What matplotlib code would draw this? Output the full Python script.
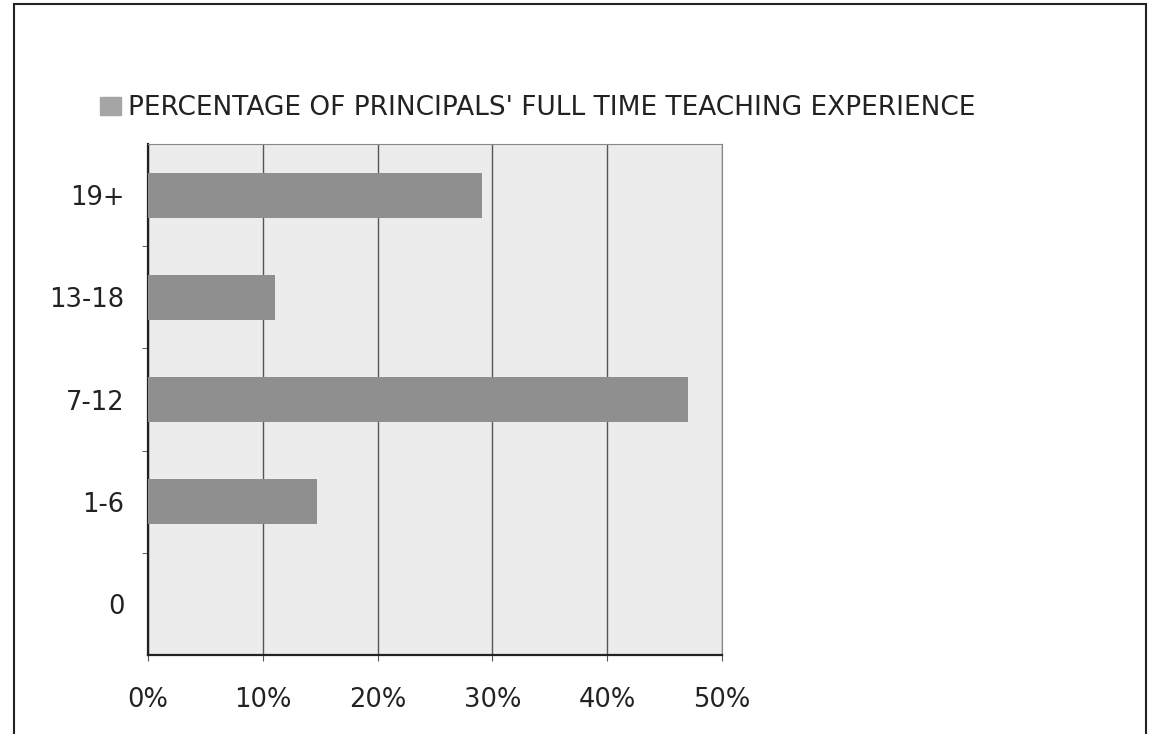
import matplotlib.pyplot as plt
from matplotlib.patches import Rectangle
from matplotlib.ticker import FuncFormatter

# years of full time teaching experience (bottom to top) and share of principals
categories = ['0', '1-6', '7-12', '13-18', '19+']
percent = [0, 14.7, 47.0, 11.1, 29.1]
x_ticks = [0, 10, 20, 30, 40, 50]
legend_label = "PERCENTAGE OF PRINCIPALS' FULL TIME TEACHING EXPERIENCE"

plt.rcParams['font.family'] = ['DejaVu Sans']

fig = plt.figure(figsize=(11.54, 7.34), dpi=100)
fig.patch.set_facecolor('white')

# outer frame of the scanned chart (bottom edge runs off the page)
fig.patches.append(Rectangle((14 / 1154, -0.05), (1146 - 14) / 1154, 1 - 4 / 734 + 0.05,
                             transform=fig.transFigure, fill=False,
                             edgecolor='#222222', linewidth=1.5))

ax = fig.add_axes([148 / 1154, 1 - 655 / 734, (722 - 148) / 1154, (655 - 144) / 734])
ax.set_facecolor('#ececec')

ypos = range(len(categories))
bars = ax.barh(ypos, percent, height=0.44, color='#8f8f8f', zorder=3, label=legend_label)

ax.set_xlim(0, 50)
ax.set_ylim(-0.5, len(categories) - 0.5)
ax.set_xticks(x_ticks)
ax.xaxis.set_major_formatter(FuncFormatter(lambda v, p: '%d%%' % v))
ax.set_yticks(list(ypos))
ax.set_yticklabels(categories)
ax.set_yticks([i + 0.5 for i in range(len(categories) - 1)], minor=True)

ax.grid(axis='x', color='#555555', linewidth=1.0, zorder=1)
ax.tick_params(axis='x', length=4, color='#555555', labelsize=18.5, pad=19, labelcolor='#222222')
ax.tick_params(axis='y', which='major', length=0, labelsize=18.5, pad=17, labelcolor='#222222')
ax.tick_params(axis='y', which='minor', length=4, color='#444444')

for side in ['top', 'right']:
    ax.spines[side].set_color('#888888')
    ax.spines[side].set_linewidth(0.8)
for side in ['left', 'bottom']:
    ax.spines[side].set_color('#222222')
    ax.spines[side].set_linewidth(1.6)

leg = fig.legend(handles=[Rectangle((0, 0), 1, 1, color='#a5a5a5')], labels=[legend_label],
                 loc='center left', bbox_to_anchor=(100 / 1154, 1 - 108 / 734),
                 frameon=False, fontsize=19, handlelength=0.8, handleheight=0.7,
                 handletextpad=0.25, borderpad=0, borderaxespad=0)
for t in leg.get_texts():
    t.set_color('#222222')

fig.savefig('out.png', dpi=100)
